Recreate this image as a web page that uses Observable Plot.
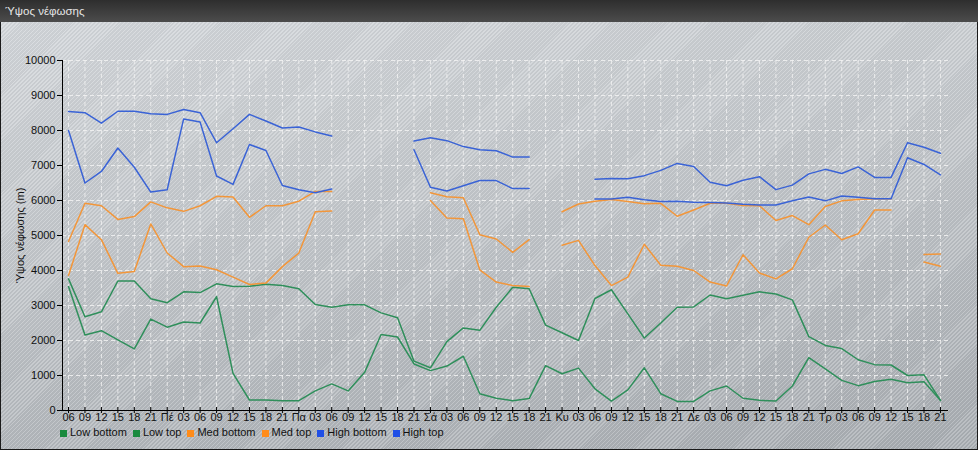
<!DOCTYPE html>
<html>
<head>
<meta charset="utf-8">
<script src="https://cdn.jsdelivr.net/npm/d3@7"></script>
<script src="https://cdn.jsdelivr.net/npm/@observablehq/plot@0.6"></script>
<style>
  html, body { margin: 0; padding: 0; background: #fff; }
  #wrap {
    position: relative; width: 978px; height: 450px; overflow: hidden;
    font-family: "Liberation Sans", Arial, sans-serif;
    background:
      repeating-linear-gradient(135deg, rgba(255,255,255,0.20) 0px, rgba(255,255,255,0.20) 1px, rgba(0,0,0,0.03) 1px, rgba(0,0,0,0.03) 2.8px),
      linear-gradient(172deg, #d4d8dc 0%, #c3c7cb 45%, #a8adb2 100%);
    box-shadow: inset 0 0 0 1px #1a1a1a;
  }
  #title {
    position: absolute; left: 0; top: 0; width: 978px; height: 22px;
    background: linear-gradient(#2e2e2e, #4c4c4c);
    color: #e6e6e6; font-size: 11.5px; line-height: 22px; padding-left: 5px; box-sizing: border-box;
  }
  #chart { position: absolute; left: 0; top: 22px; }
  #chart svg text { font-size: 11px; }
  #legend {
    position: absolute; left: 60px; top: 426px; display: flex; gap: 6px;
    font-size: 11px; color: #111; white-space: nowrap;
  }
  #legend .it { display: flex; align-items: center; }
  #legend .sw { width: 7px; height: 7px; display: inline-block; margin-top: 2px; margin-right: 3px; }
</style>
</head>
<body>
<div id="wrap">
  <div id="title">Ύψος νέφωσης</div>
  <div id="chart"></div>
  <div id="legend"></div>
</div>
<script>
const tickLabels = ["06","09","12","15","18","21","Πέ","03","06","09","12","15","18","21","Πα","03","06","09","12","15","18","21","Σά","03","06","09","12","15","18","21","Κυ","03","06","09","12","15","18","21","Δε","03","06","09","12","15","18","21","Τρ","03","06","09","12","15","18","21"];

const lowBottom = [3540,2160,2280,2020,1760,2610,2380,2530,2500,3250,1060,300,300,280,280,560,760,560,1090,2170,2100,1330,1140,1270,1550,480,350,280,340,1280,1050,1210,620,270,590,1220,480,260,260,560,700,350,290,270,700,1510,1190,860,710,830,890,790,820,290];
const lowTop = [3760,2680,2820,3700,3700,3190,3080,3390,3370,3620,3540,3550,3610,3570,3480,3030,2950,3020,3020,2790,2650,1410,1220,1970,2360,2290,2950,3520,3480,2440,2220,2000,3200,3450,2760,2070,2500,2950,2960,3300,3190,3290,3390,3330,3160,2110,1860,1770,1450,1310,1300,1000,1020,290];
const medBottom = [3860,5310,4880,3920,3970,5330,4500,4110,4130,4020,3810,3600,3640,4110,4500,5680,5700,null,null,null,null,null,6000,5500,5480,4020,3670,3570,3540,null,4720,4860,4140,3570,3810,4750,4150,4120,4000,3670,3560,4450,3930,3760,4050,4950,5300,4880,5050,5730,5730,null,4240,4120];
const medTop = [4830,5920,5850,5460,5540,5960,5790,5690,5850,6120,6100,5520,5850,5850,5980,6260,6260,null,null,null,null,null,6220,6110,6080,5020,4900,4520,4880,null,5680,5900,5980,6030,5970,5910,5920,5550,5730,5920,5920,5860,5850,5430,5570,5310,5830,5990,6030,6050,6050,null,4460,4470];
const highBottom = [8000,6500,6830,7500,6950,6240,6310,8330,8240,6700,6460,7600,7430,6430,6310,6220,6330,null,null,null,null,7450,6380,6270,6420,6570,6570,6340,6340,null,null,null,6040,6040,6090,6020,5970,5980,5950,5940,5930,5890,5870,5870,5990,6100,5990,6130,6090,6050,6050,7220,7030,6730];
const highTop = [8540,8510,8210,8550,8550,8480,8460,8600,8510,7650,8050,8460,8270,8070,8100,7960,7840,null,null,null,null,7700,7790,7710,7540,7450,7420,7240,7240,null,null,null,6610,6630,6620,6710,6860,7060,6970,6520,6420,6580,6680,6310,6440,6760,6890,6770,6960,6660,6660,7650,7520,7350];

const seriesNames = ["Low bottom","Low top","Med bottom","Med top","High bottom","High top"];
const seriesValues = [lowBottom, lowTop, medBottom, medTop, highBottom, highTop];
const lineColors = ["#2f8f5b","#2f8f5b","#f2963a","#f2963a","#3a63d6","#3a63d6"];
const legendColors = ["#1a8a3e","#1a8a3e","#ff8c1a","#ff8c1a","#1f4fe6","#1f4fe6"];
const yTicks = [0,1000,2000,3000,4000,5000,6000,7000,8000,9000,10000];
const yLabel = "Ύψος νέφωσης (m)";

const idx = d3.range(tickLabels.length);
const xDomain = [-0.365, 53.49];

const lineMarks = seriesValues.map((vals, k) =>
  Plot.line(idx.map(i => ({i, v: vals[i]})), {
    x: "i", y: "v", stroke: lineColors[k], strokeWidth: 1.5, curve: "linear"
  })
);

const chart = Plot.plot({
  width: 978, height: 420,
  marginLeft: 62, marginRight: 30, marginTop: 38, marginBottom: 32,
  style: {background: "transparent", fontFamily: "'Liberation Sans', Arial, sans-serif", fontSize: "11px", color: "#111", overflow: "visible"},
  x: {domain: xDomain, axis: null},
  y: {domain: [0, 10000], axis: null},
  marks: [
    Plot.gridY(yTicks.slice(1), {stroke: "#f2f2f2", strokeOpacity: 0.85, strokeDasharray: "4,3"}),
    Plot.gridX(idx, {stroke: "#f2f2f2", strokeOpacity: 0.85, strokeDasharray: "4,3"}),
    ...lineMarks,
    Plot.ruleY([0], {stroke: "#000", strokeWidth: 1}),
    Plot.ruleX([xDomain[0]], {stroke: "#000", strokeWidth: 1}),
    Plot.axisY({ticks: yTicks, tickFormat: d => String(d), tickSize: 5, tickPadding: 2, stroke: "#000", fill: "#111", fontSize: 11,
      label: yLabel, labelAnchor: "center", labelArrow: false, labelOffset: 46}),
    Plot.axisX({ticks: idx, tickFormat: i => tickLabels[i], tickSize: 0, tickPadding: 3, fill: "#111", fontSize: 11, label: null}),
    Plot.ruleX(idx, {x: d => d, y1: 0, y2: 0, insetTop: 3, insetBottom: 3, stroke: "#000"})
  ]
});
document.getElementById("chart").appendChild(chart);

const legend = document.getElementById("legend");
seriesNames.forEach((name, k) => {
  const it = document.createElement("div");
  it.className = "it";
  const sw = document.createElement("span");
  sw.className = "sw";
  sw.style.background = legendColors[k];
  const tx = document.createElement("span");
  tx.textContent = name;
  it.appendChild(sw); it.appendChild(tx);
  legend.appendChild(it);
});
</script>
</body>
</html>
